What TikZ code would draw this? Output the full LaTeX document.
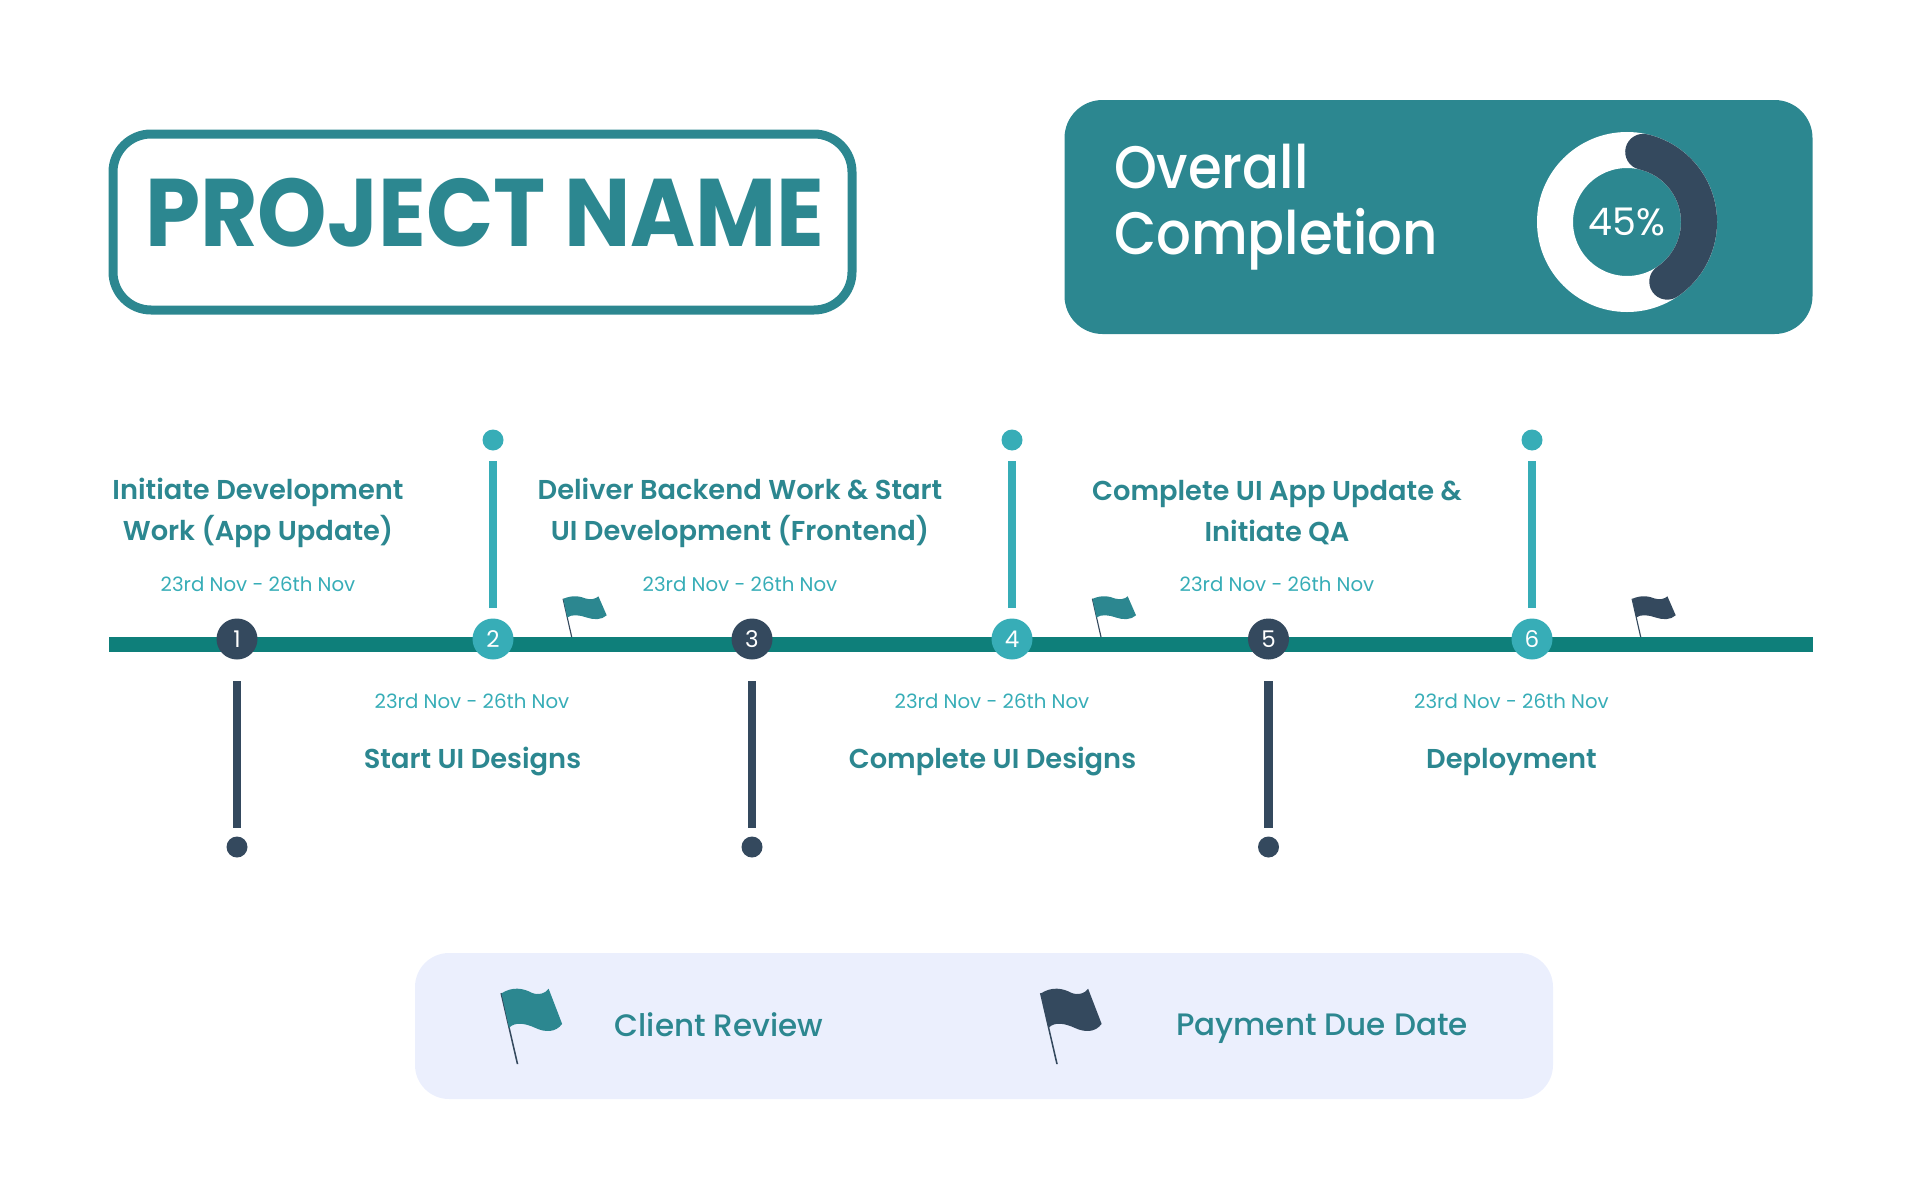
\documentclass[tikz,border=0pt]{standalone}
\usepackage{fontspec}
\setmainfont{Poppins}
\newfontfamily\semifont{Poppins SemiBold}
\newfontfamily\boldfont{Poppins}[UprightFont=* Bold, FakeStretch=.92]
\newfontfamily\medfont{Poppins Medium}[FakeStretch=.91]
\newfontfamily\legendfont{Poppins Medium}
\definecolor{tealmain}{HTML}{2C8790}
\definecolor{tealbar}{HTML}{0E7F7A}
\definecolor{teallight}{HTML}{37ADB7}
\definecolor{navy}{HTML}{34495E}
\definecolor{legendbg}{HTML}{EBEFFD}
\tikzset{
  every node/.style={inner sep=0pt, outer sep=0pt},
  stone/.style={circle, minimum size=41, text=white, font=\fontsize{23}{23}\selectfont},
  pin/.style={circle, minimum size=21},
  stem/.style={line width=8.5},
  heading/.style={align=center, text=tealmain, font=\semifont\fontsize{27.3}{41}\selectfont},
  dates/.style={text=teallight, font=\fontsize{19.75}{20}\selectfont},
  keyflag/.style={xscale=1.35, yscale=1.85, xslant=-.09},
  flagmark/.pic={
    \fill[navy] (0.6,0) -- (-8.2,-38.4) -- (-9.2,-38.2) -- (-0.6,0) -- cycle;
    \fill[pic actions] (-8.4,-38.2) .. controls (0,-42) and (8,-41) .. (14,-38.5) .. controls (19,-37) and (24,-38) .. (26.7,-40.7)
      -- (35,-21.7) .. controls (30,-17) and (22,-17) .. (15,-19.5) .. controls (8,-22) and (0,-23) .. (-4.5,-19.5) -- cycle;
  }
}
\begin{document}
\begin{tikzpicture}[x=1pt,y=-1pt]
\useasboundingbox (0,0) rectangle (1914,1199);

% title and completion panels
\node (title) at (482.5,222) [draw=tealmain, line width=9, rounded corners=38, minimum width=739, minimum height=176] {};
\node (titletext) at (485,213) [text=tealmain, font=\boldfont\fontsize{96}{96}\selectfont] {PROJECT NAME};
\node (panel) at (1438.5,217) [fill=tealmain, rounded corners=38, minimum width=748, minimum height=234] {};
\node (overall) at (1114,207) [anchor=west, align=left, text=white, font=\medfont\fontsize{60}{66}\selectfont] {Overall\\Completion};
\node (donut) at (1627,222) [circle, draw=white, line width=36, minimum size=144, text=white, font=\fontsize{38}{38}\selectfont] {45\%};
\draw[navy, line width=36, line cap=round] (donut.center) ++(-77:72) arc[start angle=-77, end angle=56, radius=72];

% timeline
\coordinate (barL) at (109,644.5);
\coordinate (barR) at (1812.5,644.5);
\draw[tealbar, line width=14.5] (barL) -- (barR);

\node (m1) at (237,639) [stone, fill=navy] {1};
\node (m2) at (493,639) [stone, fill=teallight] {2};
\node (m3) at (752,639) [stone, fill=navy] {3};
\node (m4) at (1012,639) [stone, fill=teallight] {4};
\node (m5) at (1268.5,639) [stone, fill=navy] {5};
\node (m6) at (1532,639) [stone, fill=teallight] {6};

\node (p1) at (237,847) [pin, fill=navy] {};
\node (p2) at (493,440) [pin, fill=teallight] {};
\node (p3) at (752,847) [pin, fill=navy] {};
\node (p4) at (1012,440) [pin, fill=teallight] {};
\node (p5) at (1268.5,847) [pin, fill=navy] {};
\node (p6) at (1532,440) [pin, fill=teallight] {};

\draw[stem, navy, shorten <=21.5, shorten >=8.5] (m1) -- (p1);
\draw[stem, teallight, shorten <=10.5, shorten >=10] (m2) -- (p2);
\draw[stem, navy, shorten <=21.5, shorten >=8.5] (m3) -- (p3);
\draw[stem, teallight, shorten <=10.5, shorten >=10] (m4) -- (p4);
\draw[stem, navy, shorten <=21.5, shorten >=8.5] (m5) -- (p5);
\draw[stem, teallight, shorten <=10.5, shorten >=10] (m6) -- (p6);

% labels above the line
\node (t1) at (258,513.3) [heading] {Initiate Development\\Work (App Update)};
\node (d1) at (258,584) [dates] {23rd Nov - 26th Nov};
\node (t3) at (740,513.3) [heading] {Deliver Backend Work \& Start\\UI Development (Frontend)};
\node (d3) at (740,584) [dates] {23rd Nov - 26th Nov};
\node (t5) at (1277,513) [heading] {Complete UI App Update \&\\Initiate QA};
\node (d5) at (1277,584) [dates] {23rd Nov - 26th Nov};

% labels below the line
\node (d2) at (472,701) [dates] {23rd Nov - 26th Nov};
\node (t2) at (472.5,761.5) [heading] {Start UI Designs};
\node (d4) at (992,701) [dates] {23rd Nov - 26th Nov};
\node (t4) at (992.5,761.5) [heading] {Complete UI Designs};
\node (d6) at (1511.5,701) [dates] {23rd Nov - 26th Nov};
\node (t6) at (1511.5,761.5) [heading] {Deployment};

% flags on the line
\pic[fill=tealmain] at (571.7,637) {flagmark};
\pic[fill=tealmain] at (1101,637) {flagmark};
\pic[fill=navy] at (1640.7,637) {flagmark};

% legend
\node (legend) at (984,1026) [fill=legendbg, rounded corners=34, minimum width=1138, minimum height=146] {};
\pic[fill=tealmain, keyflag] at (517.5,1064) {flagmark};
\node (review) at (719,1025) [text=tealmain, font=\legendfont\fontsize{31}{31}\selectfont] {Client Review};
\pic[fill=navy, keyflag] at (1057,1064) {flagmark};
\node (payment) at (1322,1029) [text=tealmain, font=\legendfont\fontsize{31}{31}\selectfont] {Payment Due Date};
\end{tikzpicture}
\end{document}
